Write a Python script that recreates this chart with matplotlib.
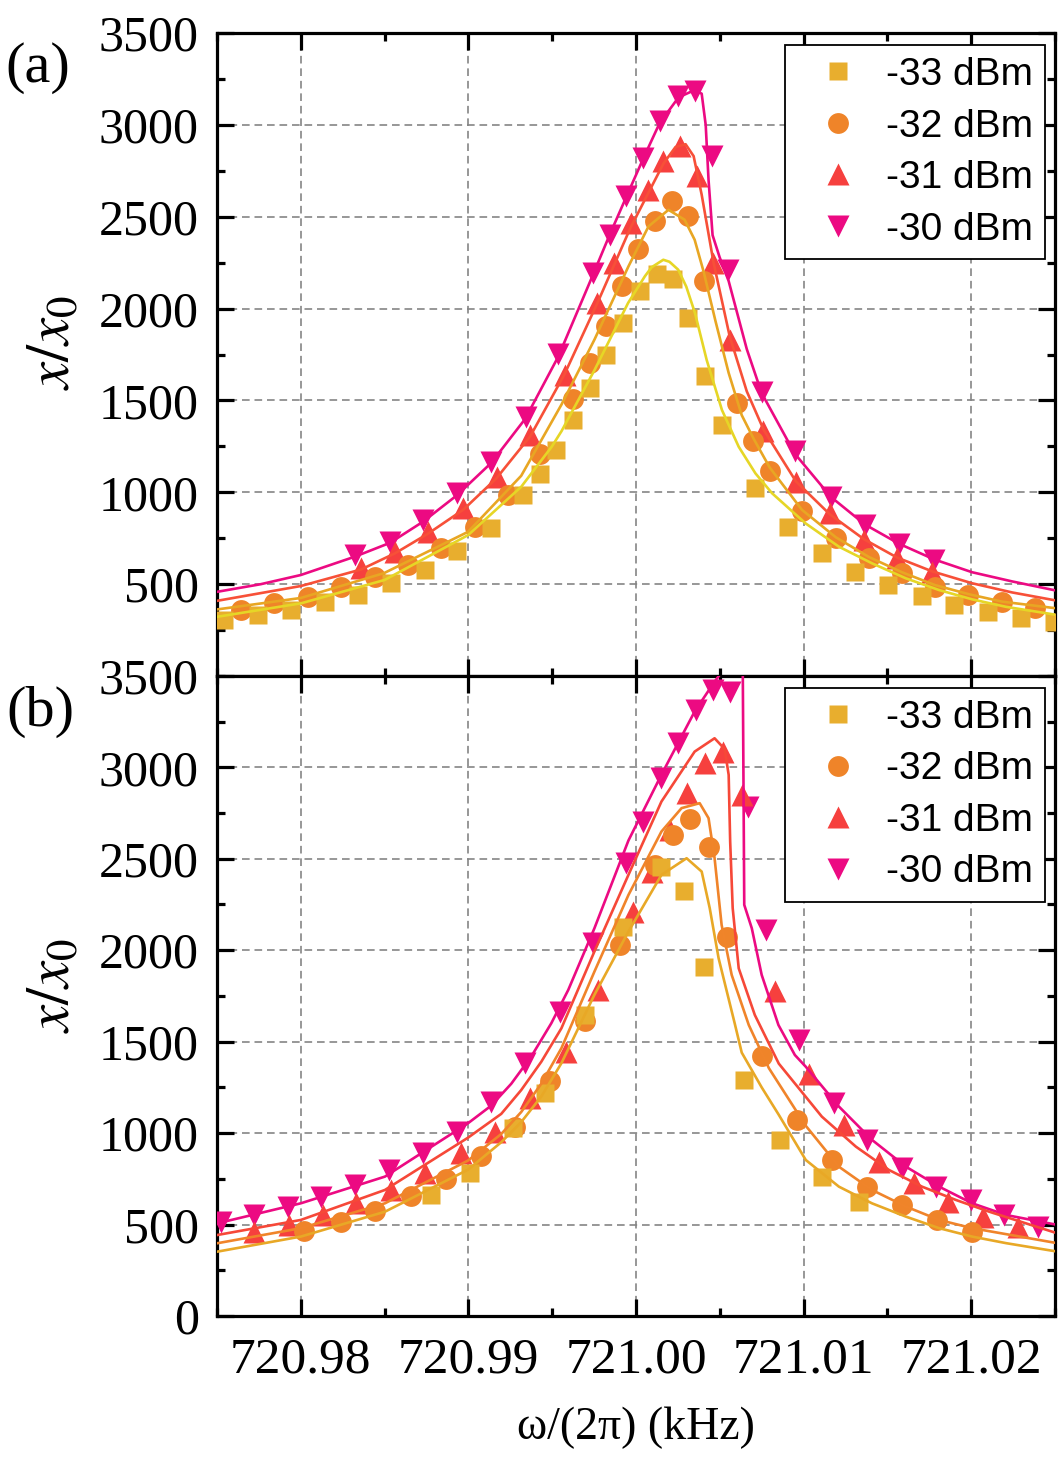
import matplotlib
matplotlib.use("Agg")
import matplotlib.pyplot as plt
from matplotlib.ticker import MultipleLocator, FormatStrFormatter

plt.rcParams['font.family'] = 'Liberation Serif'
plt.rcParams['mathtext.fontset'] = 'stix'
plt.rcParams['lines.scale_dashes'] = False

labels = ['-33 dBm', '-32 dBm', '-31 dBm', '-30 dBm']

# ---------------- panel (a): measured points ----------------
sq_a_x = [720.97544, 720.97743, 720.97942, 720.98142, 720.98341, 720.98540, 720.98740, 720.98935,
          720.99134, 720.99327, 720.99427, 720.99525, 720.99625, 720.99724, 720.99824, 720.99924,
          721.00023, 721.00123, 721.00218, 721.00312, 721.00411, 721.00511, 721.00713, 721.00908,
          721.01107, 721.01306, 721.01506, 721.01705, 721.01898, 721.02098, 721.02297, 721.02496]
sq_a_y = [305, 332, 359, 401, 441, 504, 577, 680, 804, 985, 1100, 1230, 1392, 1568, 1745, 1921,
          2094, 2190, 2161, 1949, 1631, 1368, 1022, 813, 668, 568, 495, 435, 386, 350, 314, 296]

ci_a_x = [720.97643, 720.97843, 720.98042, 720.98241, 720.98441, 720.98640, 720.98839, 720.99039,
          720.99238, 720.99427, 720.99624, 720.99724, 720.99820, 720.99919, 721.00013, 721.00111,
          721.00212, 721.00312, 721.00408, 721.00600, 721.00700, 721.00800, 721.00992, 721.01191,
          721.01390, 721.01589, 721.01785, 721.01984, 721.02184, 721.02383]
ci_a_y = [359, 396, 432, 483, 541, 604, 695, 813, 985, 1208, 1510, 1706, 1903, 2121, 2324, 2475,
          2584, 2505, 2148, 1489, 1280, 1117, 898, 750, 641, 559, 486, 441, 404, 368]

tu_a_x = [720.98361, 720.98560, 720.98759, 720.98969, 720.99168, 720.99367, 720.99574, 720.99770,
          720.99870, 720.99969, 721.00069, 721.00163, 721.00262, 721.00362, 721.00462, 721.00561,
          721.00760, 721.00952, 721.01155, 721.01360, 721.01559, 721.01765]
tu_a_y = [586, 677, 785, 913, 1085, 1312, 1640, 2031, 2248, 2466, 2647, 2802, 2884, 2720, 2248,
          1831, 1336, 1058, 886, 740, 641, 568]

td_a_x = [720.98321, 720.98530, 720.98729, 720.98935, 720.99134, 720.99341, 720.99537, 720.99744,
          720.99843, 720.99943, 721.00043, 721.00142, 721.00252, 721.00352, 721.00451, 721.00551,
          721.00750, 721.00950, 721.01161, 721.01366, 721.01570, 721.01779]
td_a_y = [659, 731, 849, 995, 1166, 1411, 1752, 2193, 2402, 2611, 2819, 3019, 3155, 3182, 2829,
          2211, 1545, 1223, 976, 822, 717, 631]

# ---------------- panel (a): fit curves ----------------
la33_x = [720.97504, 720.98002, 720.98500, 720.98998, 720.99315, 720.99497, 720.99555, 720.99754,
          720.99953, 721.00053, 721.00093, 721.00163, 721.00200, 721.00252, 721.00300, 721.00352,
          721.00422, 721.00513, 721.00613, 721.00713, 721.00812, 721.01012, 721.01211, 721.01410,
          721.01610, 721.01809, 721.02008, 721.02207, 721.02516]
la33_y = [323, 396, 523, 767, 1030, 1248, 1332, 1668, 2031, 2176, 2225, 2266, 2255, 2212, 2120,
          1976, 1720, 1448, 1248, 1103, 995, 831, 704, 613, 532, 468, 417, 377, 332]

la32_x = [720.97504, 720.98000, 720.98496, 720.98998, 720.99315, 720.99555, 720.99752, 720.99955,
          721.00075, 721.00194, 721.00290, 721.00350, 721.00404, 721.00475, 721.00553, 721.00631,
          721.00703, 721.00798, 721.00990, 721.01193, 721.01390, 721.01587, 721.01785, 721.01988,
          721.02185, 721.02514]
la32_y = [363, 425, 560, 785, 1090, 1477, 1831, 2230, 2448, 2538, 2484, 2375, 2200, 1930, 1650,
          1420, 1290, 1135, 905, 755, 648, 565, 495, 445, 405, 368]

la31_x = [720.97504, 720.98000, 720.98359, 720.98562, 720.98759, 720.98969, 720.99166, 720.99369,
          720.99572, 720.99770, 720.99967, 721.00164, 721.00236, 721.00296, 721.00344, 721.00392,
          721.00463, 721.00559, 721.00661, 721.00762, 721.00954, 721.01157, 721.01360, 721.01558,
          721.01767, 721.02006, 721.02245, 721.02514]
la31_y = [410, 490, 580, 668, 775, 905, 1075, 1305, 1640, 2031, 2440, 2790, 2880, 2895, 2830, 2620,
          2250, 1850, 1550, 1340, 1060, 880, 745, 645, 570, 505, 455, 410]

la30_x = [720.97504, 720.97761, 720.98000, 720.98323, 720.98532, 720.98729, 720.98933, 720.99136,
          720.99339, 720.99537, 720.99746, 720.99842, 720.99943, 721.00045, 721.00141, 721.00254,
          721.00350, 721.00392, 721.00416, 721.00433, 721.00457, 721.00499, 721.00553, 721.00661,
          721.00750, 721.00948, 721.01163, 721.01366, 721.01570, 721.01779, 721.02006, 721.02245,
          721.02514]
la30_y = [459, 500, 550, 650, 725, 840, 985, 1160, 1400, 1740, 2190, 2400, 2610, 2820, 3010, 3150,
          3190, 3170, 3000, 2700, 2400, 2280, 2150, 1780, 1540, 1210, 975, 825, 720, 635, 565, 515,
          464]

# ---------------- panel (b): measured points ----------------
sq_b_x = [720.98779, 720.99009, 720.99268, 720.99457, 720.99695, 720.99923, 721.00152, 721.00288,
          721.00408, 721.00642, 721.00862, 721.01107, 721.01330]
sq_b_y = [662, 780, 1030, 1218, 1646, 2129, 2457, 2324, 1910, 1293, 963, 759, 625]

ci_b_x = [720.98022, 720.98237, 720.98444, 720.98656, 720.98865, 720.99074, 720.99278, 720.99487,
          720.99695, 720.99903, 721.00111, 721.00222, 721.00322, 721.00435, 721.00541, 721.00750,
          721.00963, 721.01171, 721.01380, 721.01590, 721.01799, 721.02004]
ci_b_y = [467, 516, 576, 656, 748, 875, 1035, 1287, 1612, 2029, 2467, 2631, 2718, 2567, 2074, 1420,
          1069, 853, 707, 607, 525, 461]

tu_b_x = [720.97723, 720.97932, 720.98132, 720.98331, 720.98540, 720.98740, 720.98958, 720.99158,
          720.99367, 720.99580, 720.99774, 720.99983, 721.00093, 721.00202, 721.00302, 721.00411,
          721.00521, 721.00631, 721.00831, 721.01033, 721.01241, 721.01450, 721.01659, 721.01864,
          721.02068, 721.02277]
tu_b_y = [461, 498, 552, 616, 689, 780, 890, 1008, 1191, 1446, 1783, 2211, 2430, 2658, 2858, 3023,
          3086, 2849, 1778, 1322, 1045, 844, 726, 625, 543, 488]

td_b_x = [720.97523, 720.97719, 720.97922, 720.98121, 720.98321, 720.98524, 720.98729, 720.98935,
          720.99134, 720.99338, 720.99546, 720.99744, 720.99943, 721.00043, 721.00152, 721.00252,
          721.00361, 721.00461, 721.00561, 721.00671, 721.00774, 721.00973, 721.01181, 721.01380,
          721.01590, 721.01789, 721.01998, 721.02197, 721.02396]
td_b_y = [516, 552, 598, 653, 716, 798, 890, 1008, 1172, 1382, 1664, 2038, 2476, 2703, 2941, 3132,
          3314, 3424, 3414, 2785, 2111, 1509, 1167, 963, 808, 707, 634, 552, 488]

# ---------------- panel (b): fit curves ----------------
lb33_x = [720.97504, 720.98000, 720.98502, 720.98998, 720.99196, 720.99315, 720.99435, 720.99555,
          720.99752, 720.99955, 721.00152, 721.00302, 721.00392, 721.00440, 721.00493, 721.00589,
          721.00631, 721.00750, 721.00852, 721.01013, 721.01211, 721.01408, 721.01611, 721.01809,
          721.02006, 721.02209, 721.02514]
lb33_y = [352, 434, 570, 800, 950, 1060, 1200, 1382, 1756, 2102, 2412, 2503, 2430, 2230, 1956,
          1600, 1440, 1250, 1100, 853, 707, 616, 543, 480, 434, 398, 352]

lb32_x = [720.97504, 720.98000, 720.98502, 720.98998, 720.99196, 720.99315, 720.99435, 720.99555,
          720.99752, 720.99955, 721.00152, 721.00272, 721.00380, 721.00433, 721.00469, 721.00511,
          721.00571, 721.00673, 721.00793, 721.01013, 721.01211, 721.01408, 721.01611, 721.01809,
          721.02006, 721.02514]
lb32_y = [398, 480, 616, 850, 995, 1115, 1270, 1464, 1883, 2302, 2649, 2777, 2804, 2722, 2503,
          2138, 1865, 1591, 1355, 1040, 816, 689, 598, 525, 480, 398]

lb31_x = [720.97504, 720.98000, 720.98502, 720.98998, 720.99196, 720.99315, 720.99435, 720.99555,
          720.99752, 720.99955, 721.00152, 721.00350, 721.00469, 721.00529, 721.00553, 721.00562,
          721.00577, 721.00613, 721.00709, 721.00852, 721.01109, 721.01312, 721.01510, 721.01707,
          721.01910, 721.02108, 721.02514]
lb31_y = [443, 525, 689, 975, 1105, 1235, 1390, 1573, 1993, 2412, 2813, 3086, 3159, 3100, 2959,
          2594, 2230, 1901, 1646, 1380, 1090, 926, 798, 707, 634, 570, 452]

lb30_x = [720.97504, 720.98000, 720.98502, 720.98998, 720.99136, 720.99256, 720.99376, 720.99495,
          720.99596, 720.99752, 720.99955, 721.00152, 721.00350, 721.00469, 721.00511, 721.00571,
          721.00637, 721.00646, 721.00691, 721.00750, 721.00850, 721.00948, 721.01013, 721.01211,
          721.01408, 721.01611, 721.01809, 721.02006, 721.02209, 721.02514]
lb30_y = [507, 616, 762, 1054, 1150, 1270, 1420, 1601, 1783, 2120, 2600, 2960, 3305, 3469, 3520,
          3560, 3560, 2248, 2120, 1865, 1591, 1427, 1363, 1145, 963, 816, 707, 616, 552, 498]

mk_colors = ['#E8AE2E', '#EF8429', '#F6403E', '#EC0A82']
markers = ['s', 'o', '^', 'v']
msizes = [13.5, 15, 16.5, 16.5]
line_a_colors = ['#E6D626', '#E8A623', '#F75038', '#EC0A82']
line_b_colors = ['#E8A826', '#F0842A', '#F64838', '#EC0A82']

pts_a = [(sq_a_x, sq_a_y), (ci_a_x, ci_a_y), (tu_a_x, tu_a_y), (td_a_x, td_a_y)]
fit_a = [(la33_x, la33_y), (la32_x, la32_y), (la31_x, la31_y), (la30_x, la30_y)]
pts_b = [(sq_b_x, sq_b_y), (ci_b_x, ci_b_y), (tu_b_x, tu_b_y), (td_b_x, td_b_y)]
fit_b = [(lb33_x, lb33_y), (lb32_x, lb32_y), (lb31_x, lb31_y), (lb30_x, lb30_y)]

fig = plt.figure(figsize=(10.59, 14.57), dpi=100)
ax_a = fig.add_axes([0.2049, 0.5360, 0.7913, 0.4413])
ax_b = fig.add_axes([0.2049, 0.0968, 0.7913, 0.4393])


def draw_panel(ax, pts, fits, lcolors):
    handles = []
    # -30 dBm first so lower powers end up on top
    for i in [3, 2, 1, 0]:
        h, = ax.plot(pts[i][0], pts[i][1], ls='none', marker=markers[i], ms=msizes[i],
                     color=mk_colors[i], mec='none', label=labels[i], zorder=3)
        handles.append(h)
    for i in [3, 2, 1, 0]:
        ax.plot(fits[i][0], fits[i][1], color=lcolors[i], lw=1.9, zorder=4)
    handles = handles[::-1]

    ax.set_xlim(720.975, 721.025)
    ax.set_ylim(0, 3500)
    ax.xaxis.set_major_locator(MultipleLocator(0.01))
    ax.xaxis.set_minor_locator(MultipleLocator(0.005))
    ax.xaxis.set_major_formatter(FormatStrFormatter('%.2f'))
    ax.yaxis.set_minor_locator(MultipleLocator(250))
    ax.grid(True, which='major', ls=(0, (5.5, 3.5)), color='#858585', lw=1.2)
    ax.set_axisbelow(True)
    for s in ax.spines.values():
        s.set_linewidth(2.3)
    ax.tick_params(which='both', direction='in', top=True, right=True, width=2.3)
    ax.tick_params(axis='y', labelsize=36, pad=13)
    ax.tick_params(axis='x', labelsize=37, pad=15)
    ax.tick_params(which='major', length=12)
    ax.tick_params(which='minor', length=6)

    leg = ax.legend(handles=handles, loc='upper right', bbox_to_anchor=(0.988, 0.981),
                    borderaxespad=0, fancybox=False, edgecolor='black', framealpha=1,
                    prop={'family': 'Liberation Sans', 'size': 28}, handlelength=2.1,
                    handletextpad=0.2, labelspacing=0.4, borderpad=0.3)
    leg.get_frame().set_linewidth(1.3)
    leg.set_zorder(6)


draw_panel(ax_a, pts_a, fit_a, line_a_colors)
draw_panel(ax_b, pts_b, fit_b, line_b_colors)

ax_a.set_yticks(range(500, 3501, 500))
ax_a.tick_params(labelbottom=False)
ax_b.set_yticks(range(0, 3501, 500))

fig.text(38 / 1059, 1 - 68 / 1457, '(a)', fontsize=42, ha='center', va='center')
fig.text(40 / 1059, 1 - 712 / 1457, '(b)', fontsize=42, ha='center', va='center')
fig.text(55 / 1059, 1 - 342 / 1457, r'$x/x_0$', rotation=90, fontsize=44, ha='center', va='center')
fig.text(55 / 1059, 1 - 985 / 1457, r'$x/x_0$', rotation=90, fontsize=44, ha='center', va='center')
fig.text(636 / 1059, 1 - 1428 / 1457, 'ω/(2π) (kHz)', fontsize=33, ha='center', va='center')

fig.savefig('out.png', dpi=100)
